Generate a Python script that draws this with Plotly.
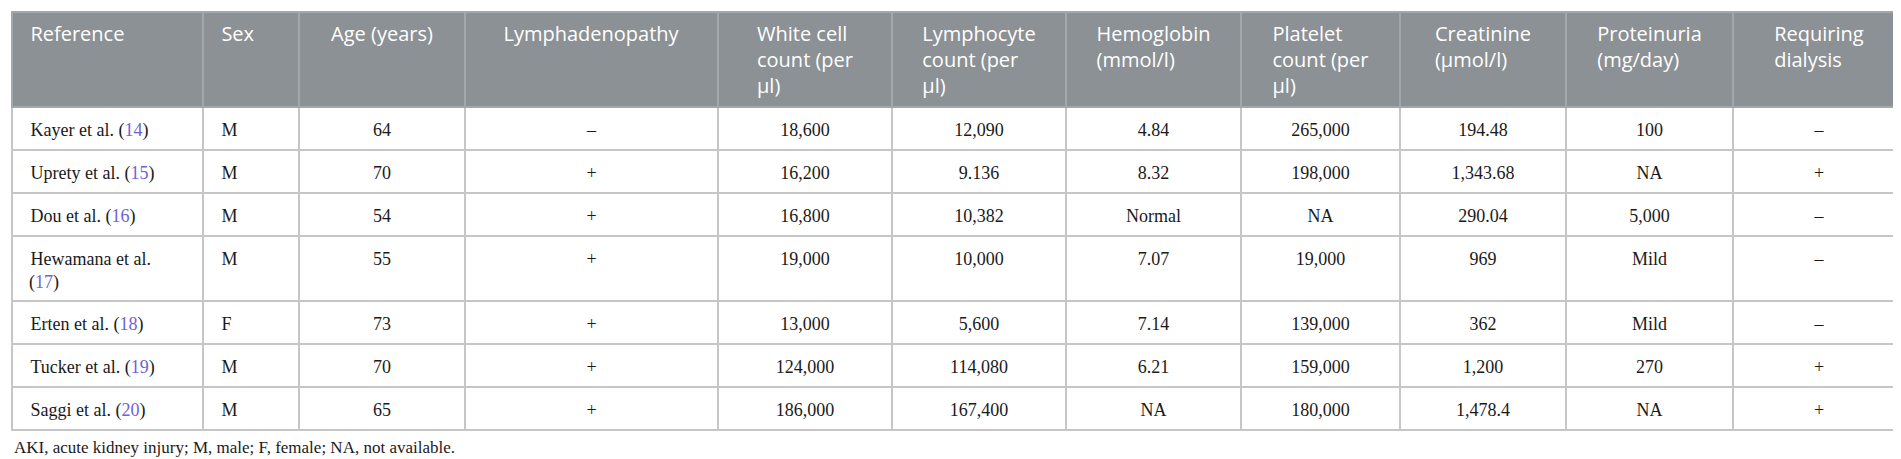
import plotly.graph_objects as go

# table values
authors = ["Kayer et al.", "Uprety et al.", "Dou et al.", "Hewamana et al.",
           "Erten et al.", "Tucker et al.", "Saggi et al."]
ref_nums = [14, 15, 16, 17, 18, 19, 20]
sex = ["M", "M", "M", "M", "F", "M", "M"]
age = [64, 70, 54, 55, 73, 70, 65]
lymphadenopathy = ["–", "+", "+", "+", "+", "+", "+"]
white_cells = ["18,600", "16,200", "16,800", "19,000", "13,000", "124,000", "186,000"]
lymphocytes = ["12,090", "9.136", "10,382", "10,000", "5,600", "114,080", "167,400"]
hemoglobin = ["4.84", "8.32", "Normal", "7.07", "7.14", "6.21", "NA"]
platelets = ["265,000", "198,000", "NA", "19,000", "139,000", "159,000", "180,000"]
creatinine = ["194.48", "1,343.68", "290.04", "969", "362", "1,200", "1,478.4"]
proteinuria = ["100", "NA", "5,000", "Mild", "Mild", "270", "NA"]
dialysis = ["–", "+", "–", "–", "–", "+", "+"]

headers = ["Reference", "Sex", "Age (years)", "Lymphadenopathy",
           "White cell<br>count (per<br>μl)", "Lymphocyte<br>count (per<br>μl)",
           "Hemoglobin<br>(mmol/l)", "Platelet<br>count (per<br>μl)",
           "Creatinine<br>(μmol/l)", "Proteinuria<br>(mg/day)", "Requiring<br>dialysis"]

footnote = "AKI, acute kidney injury; M, male; F, female; NA, not available."

LINK = "#6c63d9"
NB = "\u00a0"
# a taller blank glyph on the first line pushes the text down in the cell
STRUT = f"<span style='font-size:24px'>{NB}</span>"


def cell(s, left=False):
    # trailing <br> also keeps plotly's word-wrap away from the span tags
    if left:
        return f"{STRUT}{NB}{s}<br>"
    return f"{STRUT}{s}{STRUT}<br>"


def ref_label(name, num):
    link = f"(<span style='color:{LINK}'>{num}</span>)"
    if len(name) > 14:
        return f"{STRUT}{NB}{name}<br>{NB}{NB}{link}"
    return cell(f"{name} {link}", left=True)


refs = [ref_label(a, n) for a, n in zip(authors, ref_nums)]
body = [sex, age, lymphadenopathy, white_cells, lymphocytes, hemoglobin,
        platelets, creatinine, proteinuria, dialysis]
body = [[cell(str(v), left=(i == 0)) for v in col] for i, col in enumerate(body)]
head_col = [(NB * 2 if i < 2 else "") + h + "<br>" for i, h in enumerate(headers)]

W, H = 1901, 459
col_w = [191, 96, 166, 253, 174, 174, 175, 159, 166, 167, 172]

fig = go.Figure(go.Table(
    domain=dict(x=[4 / W, 1897 / W], y=[0, 1 - 4 / H]),
    columnwidth=col_w,
    header=dict(
        values=head_col,
        align=["left", "left"] + ["center"] * 9,
        fill_color="#8b9194",
        line=dict(color="#a3a8ab", width=1.5),
        font=dict(family="Open Sans", size=20, color="white"),
        height=93,
    ),
    cells=dict(
        values=[refs] + body,
        align=["left", "left"] + ["center"] * 9,
        fill_color="white",
        line=dict(color="#c6c6c6", width=2),
        font=dict(family="Liberation Serif", size=18, color="#1a1a1a"),
        height=43,
    ),
))

fig.add_annotation(
    text=footnote, xref="paper", yref="paper",
    x=4 / W, y=1 - 439 / H, xanchor="left", yanchor="middle",
    showarrow=False, font=dict(family="Liberation Serif", size=17, color="#1a1a1a"),
)

fig.update_layout(
    width=W, height=H,
    margin=dict(l=0, r=0, t=0, b=0),
    paper_bgcolor="white",
)

fig.write_html("out.html")
